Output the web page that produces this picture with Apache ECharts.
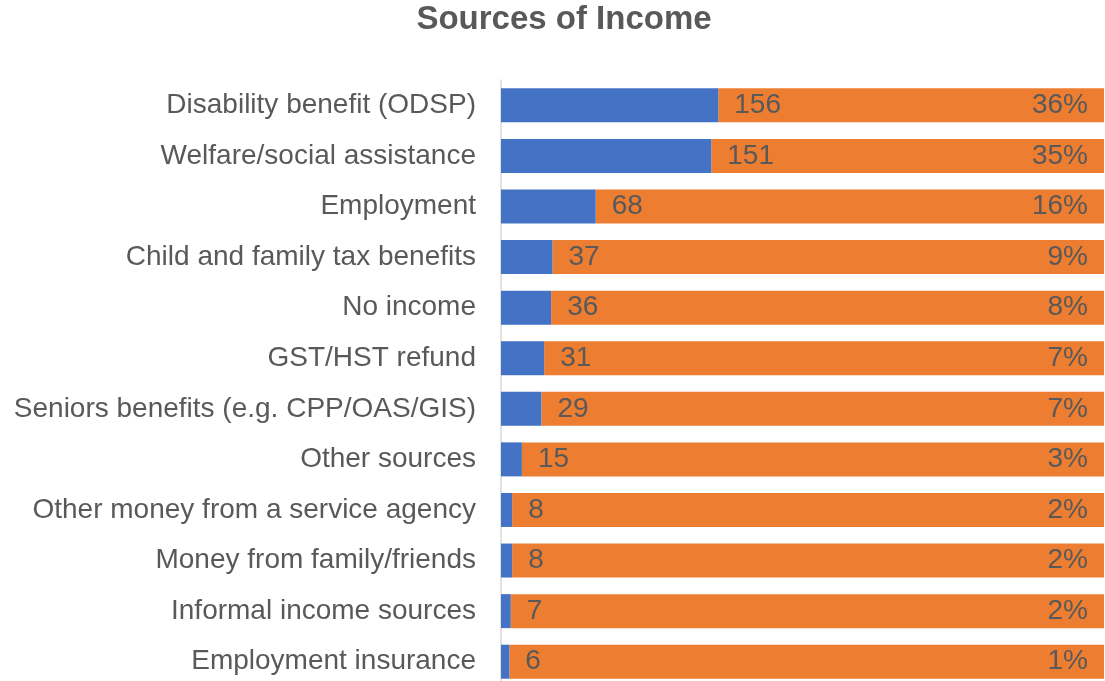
<!DOCTYPE html>
<html>
<head>
<meta charset="utf-8">
<script src="https://cdn.jsdelivr.net/npm/echarts@6/dist/echarts.min.js"></script>
<style>
  html, body { margin: 0; padding: 0; background: #ffffff; }
  #chart { width: 1105px; height: 681px; }
</style>
</head>
<body>
<div id="chart"></div>
<script>
// Income sources reported by respondents
const categories = [
  'Disability benefit (ODSP)',
  'Welfare/social assistance',
  'Employment',
  'Child and family tax benefits',
  'No income',
  'GST/HST refund',
  'Seniors benefits (e.g. CPP/OAS/GIS)',
  'Other sources',
  'Other money from a service agency',
  'Money from family/friends',
  'Informal income sources',
  'Employment insurance'
];
const counts = [156, 151, 68, 37, 36, 31, 29, 15, 8, 8, 7, 6];
const percentLabels = ['36%', '35%', '16%', '9%', '8%', '7%', '7%', '3%', '2%', '2%', '2%', '1%'];
const totalRespondents = 433;

// Remaining respondents fill each bar out to the total
const remainder = counts.map(c => totalRespondents - c);

const textColor = '#595959';
const font = '"Liberation Sans", Arial, sans-serif';

const chart = echarts.init(document.getElementById('chart'), null, { renderer: 'canvas' });
chart.setOption({
  animation: false,
  backgroundColor: '#ffffff',
  title: {
    text: 'Sources of Income',
    left: 564,
    top: 3,
    padding: 0,
    textAlign: 'center',
    textStyle: { fontFamily: font, fontSize: 33, fontWeight: 'bold', color: textColor }
  },
  grid: {
    left: 501, right: 1, top: 80, height: 607,
    containLabel: false,
    outerBoundsMode: 'none'
  },
  xAxis: {
    type: 'value',
    min: 0,
    max: totalRespondents,
    show: false
  },
  yAxis: {
    type: 'category',
    data: categories,
    inverse: true,
    offset: 1,
    axisLine: { show: true, lineStyle: { color: '#d9d9d9', width: 1.5 } },
    axisTick: { show: false },
    axisLabel: { margin: 24, fontFamily: font, fontSize: 28, color: textColor }
  },
  series: [
    {
      name: 'Respondents',
      type: 'bar',
      stack: 'total',
      z: 3,
      barWidth: 34,
      data: counts,
      itemStyle: { color: '#4472c4' },
      label: {
        show: true,
        position: 'right',
        distance: 16,
        fontFamily: font,
        fontSize: 28,
        color: textColor
      }
    },
    {
      name: 'Share',
      type: 'bar',
      stack: 'total',
      barWidth: 34,
      data: remainder,
      itemStyle: { color: '#ed7d31' },
      label: {
        show: true,
        position: 'insideRight',
        distance: 16,
        fontFamily: font,
        fontSize: 28,
        color: textColor,
        formatter: p => percentLabels[p.dataIndex]
      }
    }
  ]
});
</script>
</body>
</html>
